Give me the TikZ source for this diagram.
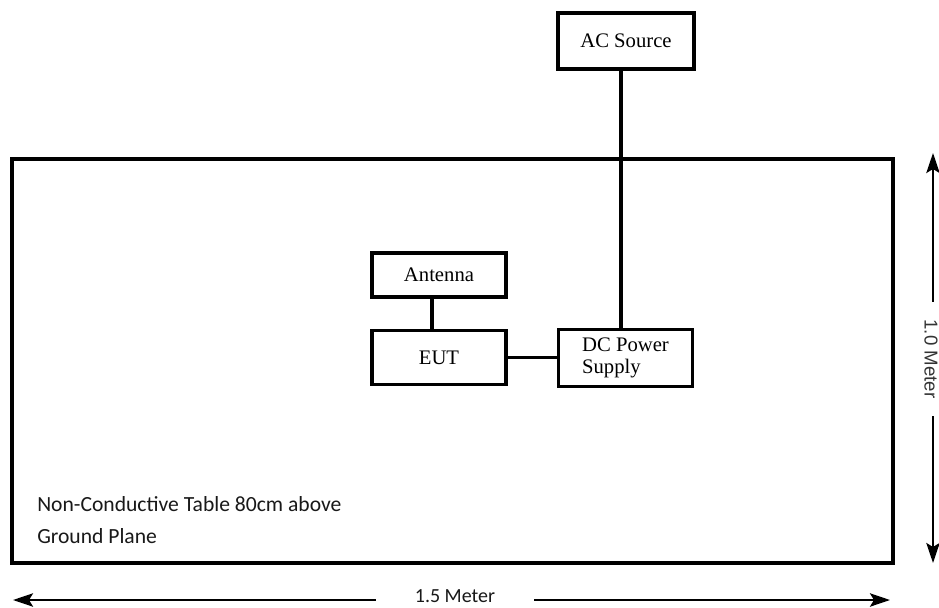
\documentclass[tikz,border=0pt]{standalone}
\usepackage{fontspec}
\setmainfont{Liberation Serif}
\newfontfamily\notefont{Carlito}
\newfontfamily\dimfont{Liberation Sans}
\usetikzlibrary{arrows.meta}
\begin{document}
\begin{tikzpicture}[x=0.75pt,y=-0.75pt,
  unitbox/.style={draw, line width=2.4pt, inner sep=0pt, align=center,
    font=\fontsize{15.5}{16}\selectfont},
  wire/.style={line width=2.4pt},
  dimline/.style={line width=1.8pt, -{Stealth[length=15pt,width=10pt,inset=3pt]}},
  note/.style={anchor=base west, inner sep=0pt, text=black!90,
    font=\notefont\fontsize{16.2}{18}\selectfont},
]
  \useasboundingbox (0,0) rectangle (939,607);
  \fill[white] (0,0) rectangle (939,607);

  % table outline
  \node[draw, line width=2.4pt, minimum width=660.75pt, minimum height=303pt,
        inner sep=0pt] (table) at (452.5,361) {};

  % equipment blocks
  \node[unitbox, minimum width=102pt, minimum height=42pt] (ac) at (626,41) {AC Source};
  \node[unitbox, minimum width=100.5pt, minimum height=33pt] (ant) at (439,275) {Antenna};
  \node[unitbox, minimum width=100.5pt, minimum height=41pt] (eut) at (439,357.5) {EUT};
  \node[unitbox, minimum width=100.5pt, minimum height=43pt, align=left] (dc) at (625.5,358) {DC Power\\Supply};

  % cabling
  \coordinate (feed) at (621,0);
  \coordinate (mast) at (432,0);
  \draw[wire] (ac.south -| feed) -- (dc.north -| feed);
  \draw[wire] (ant.south -| mast) -- (eut.north -| mast);
  \draw[wire] (eut.east) -- (eut.east -| dc.west);

  % table note
  \node[note] (note1) at (37,511) {Non-Conductive Table 80cm above};
  \node[note] (note2) at (37,543) {Ground Plane};

  % width dimension
  \node[font=\notefont\fontsize{15}{16}\selectfont, inner xsep=29pt, inner ysep=0pt,
        text=black!90] (wlabel) at (455,596) {1.5 Meter};
  \coordinate (wl) at (13,600);
  \coordinate (wr) at (890,600);
  \draw[dimline] (wlabel.west |- wl) -- (wl);
  \draw[dimline] (wlabel.east |- wr) -- (wr);

  % depth dimension
  \node[font=\dimfont\fontsize{14}{16}\selectfont, rotate=-90, inner xsep=13pt,
        inner ysep=0pt, text=black!80] (dlabel) at (931,359) {1.0 Meter};
  \coordinate (dt) at (933,153);
  \coordinate (db) at (933,563);
  \draw[dimline] (dlabel.west -| dt) -- (dt);
  \draw[dimline] (dlabel.east -| db) -- (db);
\end{tikzpicture}
\end{document}
